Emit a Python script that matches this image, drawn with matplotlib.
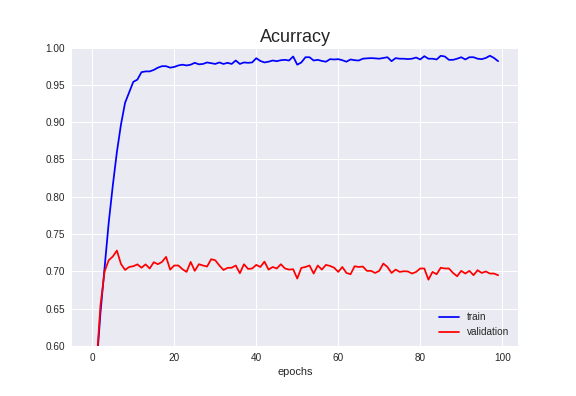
import matplotlib
matplotlib.use("Agg")
import matplotlib.pyplot as plt

plt.style.use("seaborn-v0_8")
plt.rcParams['font.family'] = ['Liberation Sans', 'DejaVu Sans']

# --- DATA ---
epochs = list(range(100))

train_acc = [
    0.48, 0.57, 0.645, 0.705, 0.765, 0.815, 0.860, 0.897, 0.926, 0.940,
    0.954, 0.957, 0.967, 0.968, 0.968, 0.970, 0.973, 0.975, 0.975, 0.973,
    0.974, 0.976, 0.977, 0.976, 0.977, 0.9795, 0.9775, 0.978, 0.980, 0.979,
    0.978, 0.980, 0.978, 0.9795, 0.978, 0.9826, 0.978, 0.980, 0.9795, 0.980,
    0.9857, 0.982, 0.980, 0.981, 0.9826, 0.9817, 0.983, 0.9835, 0.9826, 0.988,
    0.977, 0.980, 0.987, 0.987, 0.9826, 0.9835, 0.982, 0.981, 0.9844, 0.984,
    0.9844, 0.983, 0.981, 0.984, 0.983, 0.9826, 0.985, 0.9855, 0.9858, 0.9855,
    0.985, 0.986, 0.987, 0.9817, 0.9858, 0.985, 0.985, 0.9845, 0.985, 0.9866,
    0.984, 0.9884, 0.985, 0.985, 0.984, 0.9889, 0.988, 0.9835, 0.9835, 0.985,
    0.987, 0.984, 0.987, 0.987, 0.985, 0.9844, 0.986, 0.989, 0.986, 0.9817,
]

val_acc = [
    0.50, 0.575, 0.655, 0.700, 0.715, 0.720, 0.728, 0.710, 0.702, 0.706,
    0.707, 0.7095, 0.705, 0.7095, 0.704, 0.7124, 0.7097, 0.7128, 0.7195, 0.7025,
    0.708, 0.708, 0.703, 0.6994, 0.7128, 0.7008, 0.7097, 0.708, 0.7066, 0.7164,
    0.715, 0.708, 0.702, 0.7048, 0.705, 0.708, 0.6976, 0.7097, 0.7034, 0.704,
    0.7088, 0.706, 0.7132, 0.7025, 0.706, 0.704, 0.7097, 0.704, 0.7025, 0.703,
    0.6905, 0.7048, 0.706, 0.708, 0.6972, 0.708, 0.7025, 0.7088, 0.7074, 0.705,
    0.6994, 0.706, 0.698, 0.6963, 0.707, 0.706, 0.7066, 0.7008, 0.7008, 0.698,
    0.7008, 0.7106, 0.706, 0.698, 0.7025, 0.6994, 0.7003, 0.700, 0.6972, 0.6994,
    0.704, 0.704, 0.689, 0.6994, 0.6963, 0.705, 0.704, 0.704, 0.698, 0.6936,
    0.7008, 0.6972, 0.7008, 0.695, 0.7017, 0.698, 0.700, 0.6972, 0.6972, 0.695,
]

fig = plt.figure(figsize=(8, 5.5), dpi=72)
fig.subplots_adjust(left=0.125, right=0.9, top=0.88, bottom=0.126)
ax = fig.add_subplot(111)

ax.plot(epochs, train_acc, color='blue', label='train')
ax.plot(epochs, val_acc, color='red', label='validation')

ax.set_ylim(0.6, 1.0)
ax.set_yticks([0.60, 0.65, 0.70, 0.75, 0.80, 0.85, 0.90, 0.95, 1.00])
ax.set_yticklabels(["%.2f" % v for v in ax.get_yticks()])
ax.set_title("Acurracy", fontsize=18)
ax.set_xlabel("epochs")
ax.legend(loc='lower right')

fig.savefig("out.png", dpi=72)
